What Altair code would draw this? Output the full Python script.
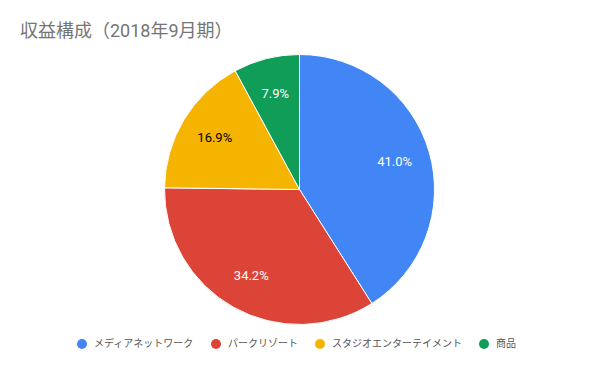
import altair as alt
import pandas as pd

categories = ["メディアネットワーク", "パークリゾート", "スタジオエンターテイメント", "商品"]
shares = [41.0, 34.2, 16.9, 7.9]
labels = ["41.0%", "34.2%", "16.9%", "7.9%"]
colors = ["#4285F4", "#DB4437", "#F4B400", "#0F9D58"]

df = pd.DataFrame({
    "category": categories,
    "share": shares,
    "label": labels,
    "order": list(range(len(categories))),
})

FONT = "Roboto, 'Noto Sans CJK JP', sans-serif"

base = alt.Chart(df).encode(
    theta=alt.Theta("share:Q", stack=True),
    order=alt.Order("order:Q"),
    x=alt.value(291.5),
    y=alt.value(136.5),
)

pie = base.mark_arc(radius=135, stroke="white", strokeWidth=1).encode(
    color=alt.Color(
        "category:N",
        scale=alt.Scale(domain=categories, range=colors),
        sort=categories,
        legend=alt.Legend(
            title=None,
            orient="none",
            direction="horizontal",
            legendX=69,
            legendY=286,
            symbolType="circle",
            symbolSize=100,
            symbolStrokeWidth=0,
            labelFont=FONT,
            labelFontSize=10,
            labelColor="#555555",
            labelOffset=7,
            columnPadding=17,
            padding=0,
        ),
    )
)

text = base.mark_text(radius=99, font=FONT, fontSize=13).encode(
    text="label:N",
    color=alt.condition(
        alt.datum.category == "スタジオエンターテイメント",
        alt.value("#000000"),
        alt.value("#ffffff"),
    ),
)

chart = (
    alt.layer(pie, text)
    .properties(
        width=584,
        height=318,
        autosize=alt.AutoSizeParams(type="none"),
        padding={"left": 0, "top": 45, "right": 0, "bottom": 0},
        title=alt.TitleParams(
            "収益構成（2018年9月期）",
            anchor="start",
            frame="group",
            font=FONT,
            fontSize=18,
            fontWeight="normal",
            color="#757575",
            baseline="alphabetic",
            offset=14,
            dx=12,
            dy=16,
        ),
    )
    .configure(background="white")
    .configure_view(strokeWidth=0, stroke="transparent", strokeOpacity=0)
)

chart.save("out.html", embed_options={"renderer": "svg", "actions": False})
